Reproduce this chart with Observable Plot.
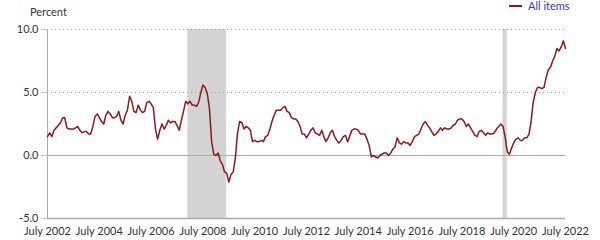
<!DOCTYPE html>
<html>
<head>
<meta charset="utf-8">
<script src="https://cdn.jsdelivr.net/npm/d3@7"></script>
<script src="https://cdn.jsdelivr.net/npm/@observablehq/plot@0.6"></script>
<style>
  body { margin: 0; background: #fff; }
  #wrap { position: relative; width: 600px; height: 240px; font-family: Lato, "Open Sans", sans-serif; }
  #ylabel { position: absolute; left: 30px; top: 5px; font-size: 11px; color: #333; }
  #legend { position: absolute; left: 509px; top: -1px; font-size: 11px; color: #3b3ba3; display: flex; align-items: center; }
  #legend .sw { width: 13px; height: 0; border-top: 2px solid #8b1a1a; margin-right: 6px; }
</style>
</head>
<body>
<div id="wrap">
  <div id="ylabel">Percent</div>
  <div id="legend"><span class="sw"></span><span>All items</span></div>
</div>
<script>
// CPI-U, all items, 12-month percent change, monthly from July 2002 to July 2022
const seriesName = "All items";
const startYear = 2002, startMonth = 6; // July (0-based)
const v2002 = [1.5, 1.8, 1.5, 2.0, 2.2, 2.4];
const v2003 = [2.6, 3.0, 3.0, 2.2, 2.1, 2.1, 2.1, 2.2, 2.3, 2.0, 1.8, 1.9];
const v2004 = [1.9, 1.7, 1.7, 2.3, 3.1, 3.3, 3.0, 2.7, 2.5, 3.2, 3.5, 3.3];
const v2005 = [3.0, 3.0, 3.1, 3.5, 2.8, 2.5, 3.2, 3.6, 4.7, 4.3, 3.5, 3.4];
const v2006 = [4.0, 3.6, 3.4, 3.5, 4.2, 4.3, 4.1, 3.8, 2.1, 1.3, 2.0, 2.5];
const v2007 = [2.1, 2.4, 2.8, 2.6, 2.7, 2.7, 2.4, 2.0, 2.8, 3.5, 4.3, 4.1];
const v2008 = [4.3, 4.0, 4.0, 3.9, 4.2, 5.0, 5.6, 5.4, 4.9, 3.7, 1.1, 0.1];
const v2009 = [0.0, 0.2, -0.4, -0.7, -1.3, -1.4, -2.1, -1.5, -1.3, -0.2, 1.8, 2.7];
const v2010 = [2.6, 2.1, 2.3, 2.2, 2.0, 1.1, 1.2, 1.1, 1.1, 1.2, 1.1, 1.5];
const v2011 = [1.6, 2.1, 2.7, 3.2, 3.6, 3.6, 3.6, 3.8, 3.9, 3.5, 3.4, 3.0];
const v2012 = [2.9, 2.9, 2.7, 2.3, 1.7, 1.7, 1.4, 1.7, 2.0, 2.2, 1.8, 1.7];
const v2013 = [1.6, 2.0, 1.5, 1.1, 1.4, 1.8, 2.0, 1.5, 1.2, 1.0, 1.2, 1.5];
const v2014 = [1.6, 1.1, 1.5, 2.0, 2.1, 2.1, 2.0, 1.7, 1.7, 1.7, 1.3, 0.8];
const v2015 = [-0.1, 0.0, -0.1, -0.2, 0.0, 0.1, 0.2, 0.2, 0.0, 0.2, 0.5, 0.7];
const v2016 = [1.4, 1.0, 0.9, 1.1, 1.0, 1.0, 0.8, 1.1, 1.5, 1.6, 1.7, 2.1];
const v2017 = [2.5, 2.7, 2.4, 2.2, 1.9, 1.6, 1.7, 1.9, 2.2, 2.0, 2.2, 2.1];
const v2018 = [2.1, 2.2, 2.4, 2.5, 2.8, 2.9, 2.9, 2.7, 2.3, 2.5, 2.2, 1.9];
const v2019 = [1.6, 1.5, 1.9, 2.0, 1.8, 1.6, 1.8, 1.7, 1.7, 1.8, 2.1, 2.3];
const v2020 = [2.5, 2.3, 1.5, 0.3, 0.1, 0.6, 1.0, 1.3, 1.4, 1.2, 1.2, 1.4];
const v2021 = [1.4, 1.7, 2.6, 4.2, 5.0, 5.4, 5.4, 5.3, 5.4, 6.2, 6.8, 7.0];
const v2022 = [7.5, 7.9, 8.5, 8.3, 8.6, 9.1, 8.5];

const recessionStarts = ["2007-12-01", "2020-02-01"];
const recessionEnds = ["2009-06-01", "2020-04-01"];

const yTicks = [-5, 0, 5, 10];
const gridTicks = [5, 10];
const xTickYears = [2002, 2004, 2006, 2008, 2010, 2012, 2014, 2016, 2018, 2020, 2022];

const values = [].concat(v2002, v2003, v2004, v2005, v2006, v2007, v2008, v2009, v2010, v2011,
  v2012, v2013, v2014, v2015, v2016, v2017, v2018, v2019, v2020, v2021, v2022);
const start = new Date(Date.UTC(startYear, startMonth, 1));
const data = values.map((v, i) => ({date: d3.utcMonth.offset(start, i), value: v}));
const end = data[data.length - 1].date;
const recessions = recessionStarts.map((s, i) => ({start: new Date(s), end: new Date(recessionEnds[i])}));
const xTicks = xTickYears.map(y => new Date(Date.UTC(y, 6, 1)));

const chart = Plot.plot({
  width: 600,
  height: 240,
  marginLeft: 47,
  marginRight: 35,
  marginTop: 29,
  marginBottom: 22,
  style: {fontFamily: "Lato, 'Open Sans', sans-serif", fontSize: "11px", color: "#333", background: "transparent"},
  x: {type: "utc", domain: [start, end]},
  y: {domain: [-5, 10]},
  marks: [
    Plot.rect(recessions, {x1: "start", x2: "end", fill: "#d4d4d4"}),
    Plot.gridY(gridTicks, {stroke: "#999", strokeOpacity: 1, strokeDasharray: "1,3"}),
    Plot.ruleY([0], {stroke: "#aaa"}),
    Plot.ruleY([-5], {stroke: "#aaa", strokeWidth: 1.5}),
    Plot.ruleX([start], {stroke: "#aaa"}),
    Plot.axisY({ticks: yTicks, tickFormat: d => d.toFixed(1), tickSize: 6, stroke: "#b4c7e7", label: null, tickPadding: 3}),
    Plot.axisX({ticks: xTicks, tickFormat: d => "July " + d.getUTCFullYear(), tickSize: 0, label: null, tickPadding: 9}),
    Plot.line(data, {x: "date", y: "value", stroke: "#8b1a1a", strokeWidth: 1.5})
  ]
});
document.getElementById("wrap").prepend(chart);
chart.style.position = "absolute";
chart.style.left = "0";
chart.style.top = "0";
</script>
</body>
</html>
